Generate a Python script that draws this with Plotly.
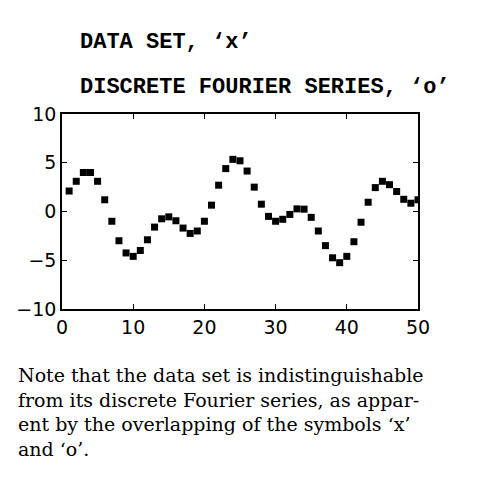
import plotly.graph_objects as go

x = list(range(1, 51))
y = [2.1, 3.1, 4.0, 4.0, 3.1, 1.2, -1.0, -3.0, -4.25, -4.6,
     -4.0, -2.9, -1.6, -0.75, -0.55, -0.95, -1.7, -2.25, -2.0, -1.0,
     0.65, 2.7, 4.4, 5.35, 5.2, 4.15, 2.5, 0.75, -0.5, -1.0,
     -0.8, -0.3, 0.27, 0.24, -0.6, -2.0, -3.5, -4.75, -5.25, -4.6,
     -3.1, -1.1, 0.95, 2.45, 3.1, 2.75, 2.05, 1.25, 0.85, 1.2]
xticks = [0, 10, 20, 30, 40, 50]
yticks = [-10, -5, 0, 5, 10]

L, R, T, B, W, H = 54, 68, 106, 195, 478, 496
fig = go.Figure(go.Scatter(x=x, y=y, mode="markers",
                           marker=dict(symbol="square", size=7, color="black")))
ax = dict(showgrid=False, zeroline=False, showline=True, linecolor="black", linewidth=1.5,
          mirror="ticks", ticks="inside", ticklen=5, tickcolor="black", automargin=False,
          tickfont=dict(family="DejaVu Sans", size=19, color="black"))
fig.update_xaxes(range=[0, 50], tickvals=xticks, **ax)
fig.update_yaxes(range=[-10, 10], tickvals=yticks, **ax)
mono = dict(family="Liberation Mono", size=22, color="black")
serif = dict(family="DejaVu Serif", size=19, color="black")
pw, ph = W - L - R, H - T - B
def px(xp, yp):
    return (xp - L) / pw, (H - yp - B) / ph
anns = [
    ("<b>DATA SET, ‘x’</b>", 70, 34, mono, "middle"),
    ("<b>DISCRETE FOURIER SERIES, ‘o’</b>", 70, 79, mono, "middle"),
    ("Note that the data set is indistinguishable<br>from its discrete Fourier series, as appar-<br>ent by the overlapping of the symbols ‘x’<br>and ‘o’.",
     8, 354, serif, "top"),
]
annotations = []
for t, xp, yp, f, ya in anns:
    ax_, ay_ = px(xp, yp)
    annotations.append(dict(text=t, x=ax_, y=ay_, xref="paper", yref="paper", showarrow=False,
                            font=f, xanchor="left", yanchor=ya, align="left"))
fig.update_layout(width=W, height=H, plot_bgcolor="white", paper_bgcolor="white", showlegend=False,
                  margin=dict(l=L, r=R, t=T, b=B), annotations=annotations)
fig.write_html("out.html")
